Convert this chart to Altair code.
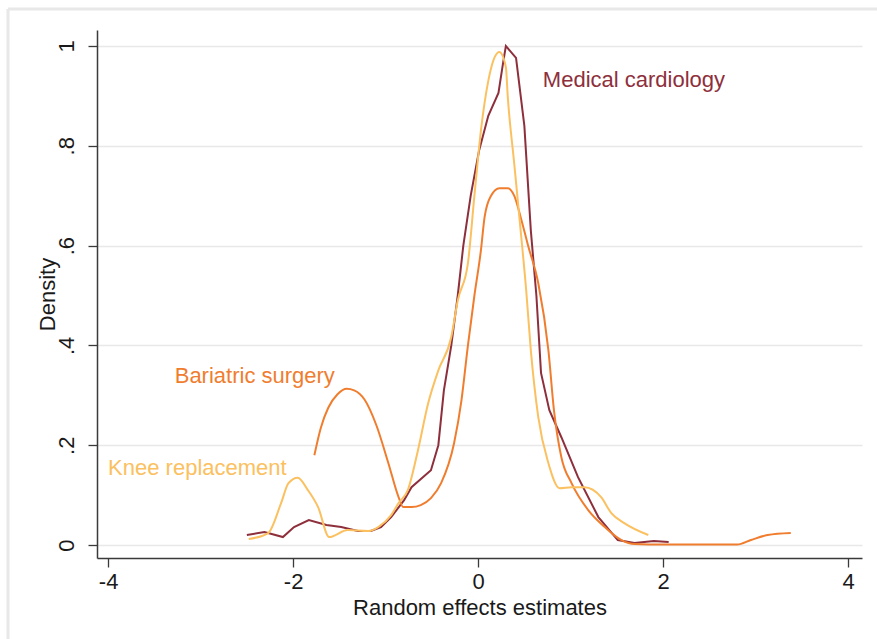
import altair as alt
import pandas as pd

# ---- data ----
card_x = [-2.50, -2.31, -2.11, -1.99, -1.83, -1.64, -1.48, -1.30, -1.16, -1.05, -0.94, -0.80,
          -0.72, -0.51, -0.43, -0.37, -0.29, -0.22, -0.16, -0.08, 0.01, 0.11, 0.22, 0.27, 0.30,
          0.41, 0.50, 0.57, 0.63, 0.68, 0.77, 0.90, 1.08, 1.30, 1.51, 1.69, 1.90, 2.06]
card_y = [0.020, 0.026, 0.016, 0.036, 0.050, 0.040, 0.036, 0.028, 0.028, 0.036, 0.056, 0.090,
          0.116, 0.150, 0.200, 0.310, 0.400, 0.500, 0.600, 0.700, 0.790, 0.860, 0.906, 0.966, 1.000,
          0.976, 0.840, 0.630, 0.500, 0.345, 0.270, 0.216, 0.136, 0.056, 0.010, 0.004, 0.008, 0.006]

bari_x = [-1.77, -1.70, -1.62, -1.52, -1.42, -1.34, -1.23, -1.10, -0.97, -0.86, -0.81, -0.72,
          -0.62, -0.51, -0.40, -0.26, -0.18, -0.11, -0.04, 0.03, 0.07, 0.14, 0.23, 0.32, 0.39,
          0.46, 0.54, 0.65, 0.76, 0.82, 0.90, 1.01, 1.19, 1.37, 1.55, 1.69, 2.00, 2.40, 2.80,
          2.95, 3.13, 3.38]
bari_y = [0.180, 0.235, 0.275, 0.302, 0.313, 0.310, 0.292, 0.240, 0.164, 0.096, 0.076, 0.076,
          0.080, 0.094, 0.124, 0.204, 0.290, 0.400, 0.500, 0.590, 0.657, 0.700, 0.715, 0.715, 0.700,
          0.657, 0.600, 0.525, 0.390, 0.270, 0.176, 0.124, 0.070, 0.036, 0.010, 0.002, 0.001, 0.001,
          0.001, 0.010, 0.020, 0.024]

knee_x = [-2.48, -2.27, -2.13, -2.05, -1.95, -1.84, -1.73, -1.61, -1.41, -1.19, -1.08, -0.94,
          -0.86, -0.76, -0.65, -0.54, -0.43, -0.29, -0.22, -0.11, -0.04, 0.03, 0.11, 0.18, 0.23,
          0.30, 0.32, 0.39, 0.46, 0.52, 0.57, 0.65, 0.76, 0.88, 1.01, 1.15, 1.33, 1.44, 1.58, 1.84]
knee_y = [0.012, 0.024, 0.084, 0.124, 0.135, 0.110, 0.076, 0.016, 0.030, 0.028, 0.036, 0.060,
          0.084, 0.110, 0.190, 0.284, 0.350, 0.417, 0.490, 0.565, 0.700, 0.830, 0.930, 0.978, 0.988,
          0.958, 0.900, 0.765, 0.630, 0.510, 0.390, 0.257, 0.164, 0.114, 0.116, 0.116, 0.096, 0.064,
          0.044, 0.020]

series_names = ["Medical cardiology", "Bariatric surgery", "Knee replacement"]
series_colors = ["#8e2f3c", "#f07d2e", "#fbc060"]
label_x = [0.70, -3.28, -4.00]
label_y = [0.932, 0.339, 0.154]

x_ticks = [-4, -2, 0, 2, 4]
y_ticks = [0, 0.2, 0.4, 0.6, 0.8, 1.0]

FONT = "Liberation Sans"
FS = 22

xs = alt.Scale(domain=[-4.12, 4.15], nice=False, zero=False)
ys = alt.Scale(domain=[-0.026, 1.032], nice=False, zero=False)

def line_layer(xv, yv, color, interp, with_axes=False):
    df = pd.DataFrame({"x": xv, "y": yv})
    if with_axes:
        xenc = alt.X("x:Q", scale=xs, axis=alt.Axis(
            values=x_ticks, title="Random effects estimates", grid=False,
            labelExpr="datum.value < 0 ? '-' + abs(datum.value) : '' + datum.value",
            tickSize=9, labelPadding=4, titleY=49, titleBaseline="middle"))
        yenc = alt.Y("y:Q", scale=ys, axis=alt.Axis(
            values=y_ticks, title="Density", grid=True,
            labelExpr="datum.value == 0 ? '0' : (datum.value == 1 ? '1' : '.' + round(datum.value * 10))",
            labelAngle=270, labelAlign="center", labelBaseline="bottom",
            tickSize=9, labelPadding=10, titleX=-50, titleAlign="center",
            titleBaseline="middle", titleAngle=270))
    else:
        xenc = alt.X("x:Q", scale=xs)
        yenc = alt.Y("y:Q", scale=ys)
    return alt.Chart(df).mark_line(color=color, strokeWidth=2, interpolate=interp).encode(
        x=xenc, y=yenc)

lab_df = pd.DataFrame({"x": label_x, "y": label_y, "t": series_names, "c": series_colors})
labels = alt.Chart(lab_df).mark_text(align="left", baseline="middle", font=FONT,
                                     fontSize=FS).encode(
    x=alt.X("x:Q", scale=xs), y=alt.Y("y:Q", scale=ys), text="t:N",
    color=alt.Color("c:N", scale=None))

frame_top = alt.Chart(pd.DataFrame({"k": [0]})).mark_rule(color="#e8e8e8", strokeWidth=3).encode(
    x=alt.value(-89), x2=alt.value(800), y=alt.value(-21))
frame_left = alt.Chart(pd.DataFrame({"k": [0]})).mark_rule(color="#e8e8e8", strokeWidth=3).encode(
    x=alt.value(-89), y=alt.value(-21), y2=alt.value(620))

chart = alt.layer(
    frame_top, frame_left,
    line_layer(card_x, card_y, series_colors[0], "linear", with_axes=True),
    line_layer(bari_x, bari_y, series_colors[1], "monotone"),
    line_layer(knee_x, knee_y, series_colors[2], "monotone"),
    labels,
).properties(
    width=765, height=528,
    autosize=alt.AutoSizeParams(type="none"),
    padding={"left": 97, "top": 30, "right": 15, "bottom": 81},
    background="white",
).configure_view(stroke=None).configure_axis(
    labelFont=FONT, titleFont=FONT, labelFontSize=FS, titleFontSize=FS,
    labelColor="#1a1a1a", titleColor="#1a1a1a", titleFontWeight="normal",
    domainColor="#3a3a3a", tickColor="#3a3a3a", domainWidth=1.5, tickWidth=1.3,
    gridColor="#e8e8e8", gridWidth=1.5,
)

chart.save("out.html", embed_options={"renderer": "svg", "actions": False})
